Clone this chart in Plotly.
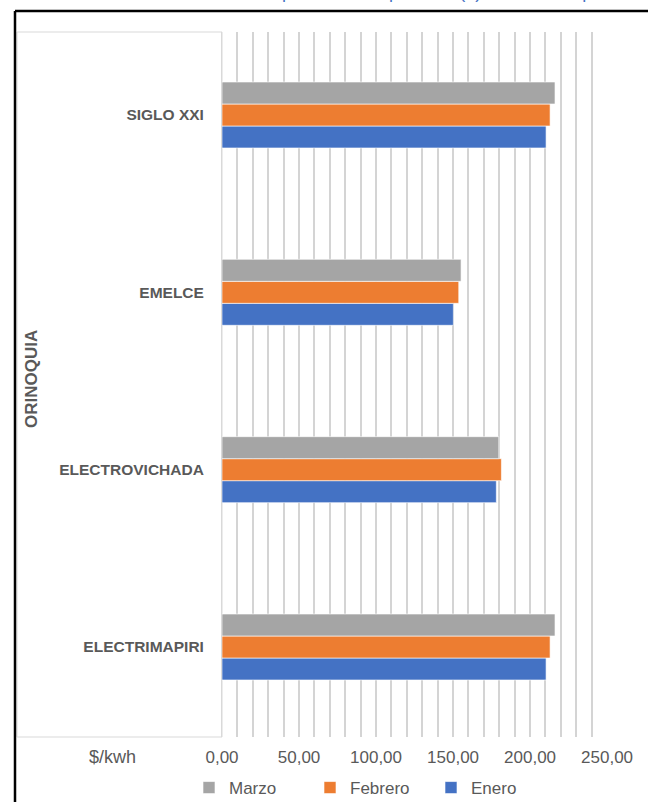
import plotly.graph_objects as go

# ---- data ----
categories = ["ELECTRIMAPIRI", "ELECTROVICHADA", "EMELCE", "SIGLO XXI"]
enero = [210.4, 178.1, 150.2, 210.4]
febrero = [213.0, 181.4, 153.7, 213.0]
marzo = [216.2, 179.7, 155.2, 216.2]
tick_vals = [0, 50, 100, 150, 200, 250]
tick_text = ["0,00", "50,00", "100,00", "150,00", "200,00", "250,00"]
group_label = "ORINOQUIA"
unit_label = "$/kwh"
title_text = "Costo Unitario Comparativo Componente (1) Zona Orinoquia"

# body margin is removed in the page (post_script), so page coords = figure coords
W, H = 648, 802
L, R, T, B = 222, 648 - 608, 32, 65
PW, PH = W - L - R, H - T - B


def px(xp):
    return (xp - L) / PW


def py(yp):
    return (H - B - yp) / PH


grey_txt = "#595959"
grid_col = "#D4D4D4"
fig = go.Figure()
for name, vals, col in [("Enero", enero, "#4472C4"),
                        ("Febrero", febrero, "#ED7D31"),
                        ("Marzo", marzo, "#A5A5A5")]:
    fig.add_trace(go.Bar(
        y=categories, x=vals, name=name, orientation="h",
        marker=dict(color=col, line=dict(color="rgba(255,255,255,0.6)", width=1)),
    ))

fig.update_layout(
    width=W, height=H,
    margin=dict(l=L, r=R, t=T, b=B, autoexpand=False),
    paper_bgcolor="white", plot_bgcolor="white",
    barmode="group", bargap=0.628, bargroupgap=0,
    font=dict(family="Liberation Sans, Arial, sans-serif", color=grey_txt),
    showlegend=True,
    legend=dict(orientation="h", traceorder="reversed",
                x=px(189), xanchor="left", y=py(788), yanchor="middle",
                font=dict(size=17, color=grey_txt),
                entrywidth=76, entrywidthmode="pixels",
                itemwidth=30, bgcolor="rgba(0,0,0,0)"),
    xaxis=dict(range=[0, 250.6], tickvals=tick_vals, ticktext=tick_text,
               showgrid=True, gridcolor=grid_col, gridwidth=1.5,
               zeroline=False, showline=False,
               ticks="outside", ticklen=5, tickcolor="rgba(0,0,0,0)",
               tickfont=dict(size=17, color=grey_txt),
               minor=dict(dtick=10, tick0=0, showgrid=True,
                          gridcolor=grid_col, gridwidth=1.5)),
    yaxis=dict(type="category", categoryorder="array", categoryarray=categories,
               range=[-0.5075, 3.468], showgrid=False, zeroline=False,
               showline=True, linecolor="#D9D9D9", linewidth=1,
               ticks="outside", ticklen=14, tickcolor="rgba(0,0,0,0)",
               tickfont=dict(size=15.5, color=grey_txt,
                             family="Liberation Sans, Arial, sans-serif",
                             weight="bold")),
)

shapes = [
    # category label box
    dict(type="rect", xref="paper", yref="paper",
         x0=px(17), x1=px(222), y0=py(737), y1=py(32),
         line=dict(color="#D9D9D9", width=1), layer="below"),
    # outer frame (black)
    dict(type="line", xref="paper", yref="paper",
         x0=px(15), x1=px(670), y0=py(11), y1=py(11),
         line=dict(color="black", width=2.5)),
    dict(type="line", xref="paper", yref="paper",
         x0=px(15), x1=px(15), y0=py(11), y1=py(820),
         line=dict(color="black", width=2.5)),
]
fig.update_layout(shapes=shapes)

fig.add_annotation(text=group_label, xref="paper", yref="paper",
                   x=px(31), y=py(379), xanchor="center", yanchor="middle",
                   textangle=-90, showarrow=False,
                   font=dict(size=17, color=grey_txt, weight="bold"))
fig.add_annotation(text=unit_label, xref="paper", yref="paper",
                   x=px(112), y=py(757), xanchor="center", yanchor="middle",
                   showarrow=False, font=dict(size=18, color=grey_txt))
fig.add_annotation(text=title_text, xref="paper", yref="paper",
                   x=px(368), y=py(4), xanchor="center", yanchor="bottom",
                   showarrow=False, font=dict(size=18, color="#4472C4"))

fig.write_html(
    "out.html",
    config={"displayModeBar": False},
    post_script="document.body.style.margin='0';"
                "document.documentElement.style.overflow='hidden';"
                "document.body.style.overflow='hidden';",
)
